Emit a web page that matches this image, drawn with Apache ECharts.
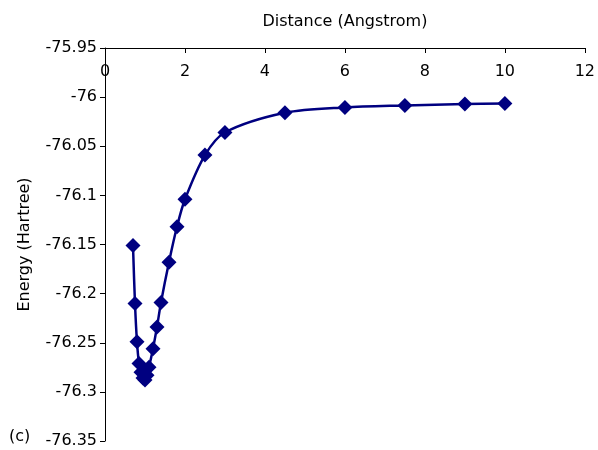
<!DOCTYPE html>
<html>
<head>
<meta charset="UTF-8">
<title>Energy vs Distance</title>
<script src="https://cdn.jsdelivr.net/npm/echarts@6/dist/echarts.min.js"></script>
<style>html, body {margin: 0; padding: 0; background: #fff;} #chart {width: 598px; height: 450px;}</style>
</head>
<body>
<div id="chart"></div>
<script>
// bond distance (Angstrom) and energy (Hartree)
const distance = [0.7, 0.75, 0.8, 0.85, 0.9, 0.95, 1.0, 1.05, 1.1, 1.2, 1.3, 1.4, 1.6, 1.8, 2.0, 2.5, 3.0, 4.5, 6.0, 7.5, 9.0, 10.0];
const energy = [-76.151, -76.210, -76.249, -76.271, -76.280, -76.286, -76.288, -76.283, -76.275, -76.256, -76.234, -76.209, -76.168, -76.132, -76.104, -76.059, -76.036, -76.016, -76.0105, -76.0085, -76.007, -76.0065];

const font = 'DejaVu Sans, sans-serif';
const chart = echarts.init(document.getElementById('chart'));

chart.setOption({
  animation: false,
  grid: {left: 105, top: 48, right: 9, bottom: 9},
  xAxis: {
    type: 'value',
    position: 'top',
    min: 0, max: 12, interval: 2,
    name: 'Distance (Angstrom)',
    nameLocation: 'middle',
    nameGap: 18,
    nameTextStyle: {fontFamily: font, fontSize: 16, color: '#000'},
    axisLine: {show: true, lineStyle: {color: '#000', width: 1}},
    axisTick: {show: true, inside: true, length: 5, lineStyle: {color: '#000'}},
    axisLabel: {inside: true, margin: 16, fontFamily: font, fontSize: 16, color: '#000'},
    splitLine: {show: false}
  },
  yAxis: {
    type: 'value',
    min: -76.35, max: -75.95, interval: 0.05,
    name: 'Energy (Hartree)',
    nameLocation: 'middle',
    nameGap: 72,
    nameTextStyle: {fontFamily: font, fontSize: 16, color: '#000'},
    axisLine: {show: true, lineStyle: {color: '#000', width: 1}},
    axisTick: {show: true, length: 5, lineStyle: {color: '#000'}},
    axisLabel: {margin: 8, fontFamily: font, fontSize: 16, color: '#000',
      formatter: v => String(parseFloat(v.toFixed(2)))},
    splitLine: {show: false}
  },
  graphic: [{
    type: 'text', left: 9, top: 429,
    style: {text: '(c)', fontFamily: font, fontSize: 16, fill: '#000'}
  }],
  series: [{
    type: 'line',
    data: distance.map((d, i) => [d, energy[i]]),
    smooth: 0.3,
    symbol: 'diamond',
    symbolSize: 15,
    itemStyle: {color: '#000080'},
    lineStyle: {color: '#000080', width: 2.5}
  }]
});
</script>
</body>
</html>
